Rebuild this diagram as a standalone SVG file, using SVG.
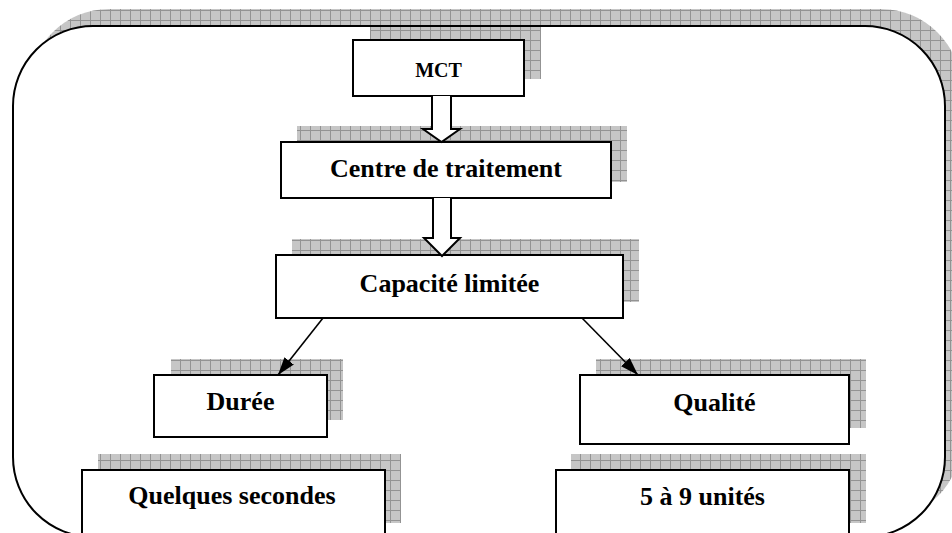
<svg xmlns="http://www.w3.org/2000/svg" width="952" height="533" viewBox="0 0 952 533">
  <defs>
    <!-- hatched grey fill used for the drop shadows -->
    <pattern id="grid" width="10" height="10" patternUnits="userSpaceOnUse">
      <rect width="10" height="10" fill="#c6c6c6"/>
      <path d="M0 0.5H10M0.5 0V10" stroke="#939393" stroke-width="1" fill="none"/>
    </pattern>
    <marker id="head" viewBox="0 0 18 12" refX="18" refY="6" markerWidth="18" markerHeight="12" markerUnits="userSpaceOnUse" orient="auto">
      <path d="M0 0L18 6L0 12Z" fill="#000"/>
    </marker>
  </defs>
  <style>
    .shadow { fill: url(#grid); stroke: none; }
    .box { fill: #fff; stroke: #000; stroke-width: 2; }
    .label { font-family: "Liberation Serif", "Times New Roman", serif; font-weight: bold; font-size: 26px; text-anchor: middle; fill: #000; }
    .small { font-size: 20px; }
    .block { fill: #fff; stroke: #000; stroke-width: 2; stroke-linejoin: miter; }
    .link { stroke: #000; stroke-width: 1.6; fill: none; marker-end: url(#head); }
  </style>

  <rect width="952" height="533" fill="#fff"/>

  <!-- outer rounded frame -->
  <g id="frame">
    <rect class="shadow" x="29" y="9" width="932" height="511" rx="80" ry="80"/>
    <rect x="13" y="26" width="932" height="511" rx="80" ry="80" fill="#fff"/>
  </g>

  <g id="node-mct">
    <rect class="shadow" x="370" y="27" width="171" height="52"/>
    <rect class="box" x="353" y="40" width="171" height="56"/>
    <text class="label small" x="438.5" y="77">MCT</text>
  </g>

  <g id="node-centre">
    <rect class="shadow" x="297" y="126" width="330" height="56"/>
    <rect class="box" x="281" y="142" width="330" height="56"/>
    <text class="label" x="446" y="177">Centre de traitement</text>
  </g>

  <g id="node-capacite">
    <rect class="shadow" x="292" y="239" width="347" height="63"/>
    <rect class="box" x="276" y="255" width="347" height="63"/>
    <text class="label" x="449.5" y="292">Capacité limitée</text>
  </g>

  <g id="node-duree">
    <rect class="shadow" x="171" y="359" width="172" height="61"/>
    <rect class="box" x="154" y="375" width="173" height="62"/>
    <text class="label" x="240.5" y="410">Durée</text>
  </g>

  <g id="node-qualite">
    <rect class="shadow" x="596" y="359" width="270" height="69"/>
    <rect class="box" x="580" y="375" width="269" height="69"/>
    <text class="label" x="714.5" y="411">Qualité</text>
  </g>

  <g id="node-secondes">
    <rect class="shadow" x="98" y="454" width="303" height="69"/>
    <rect class="box" x="82" y="470" width="303" height="80"/>
    <text class="label" x="232" y="504">Quelques secondes</text>
  </g>

  <g id="node-unites">
    <rect class="shadow" x="571" y="454" width="295" height="69"/>
    <rect class="box" x="556" y="470" width="293" height="80"/>
    <text class="label" x="702.5" y="505">5 à 9 unités</text>
  </g>

  <!-- frame outline drawn over the shadows -->
  <rect x="13" y="26" width="932" height="511" rx="80" ry="80" fill="none" stroke="#000" stroke-width="2"/>

  <g id="connectors">
    <path class="block" d="M432 96V129H423L441.5 142L460 129H451V96"/>
    <path class="block" d="M433 198V238H424L442 256L460 238H451V198"/>
    <line class="link" x1="323" y1="318" x2="278" y2="375"/>
    <line class="link" x1="582" y1="318" x2="638" y2="375"/>
  </g>
</svg>
